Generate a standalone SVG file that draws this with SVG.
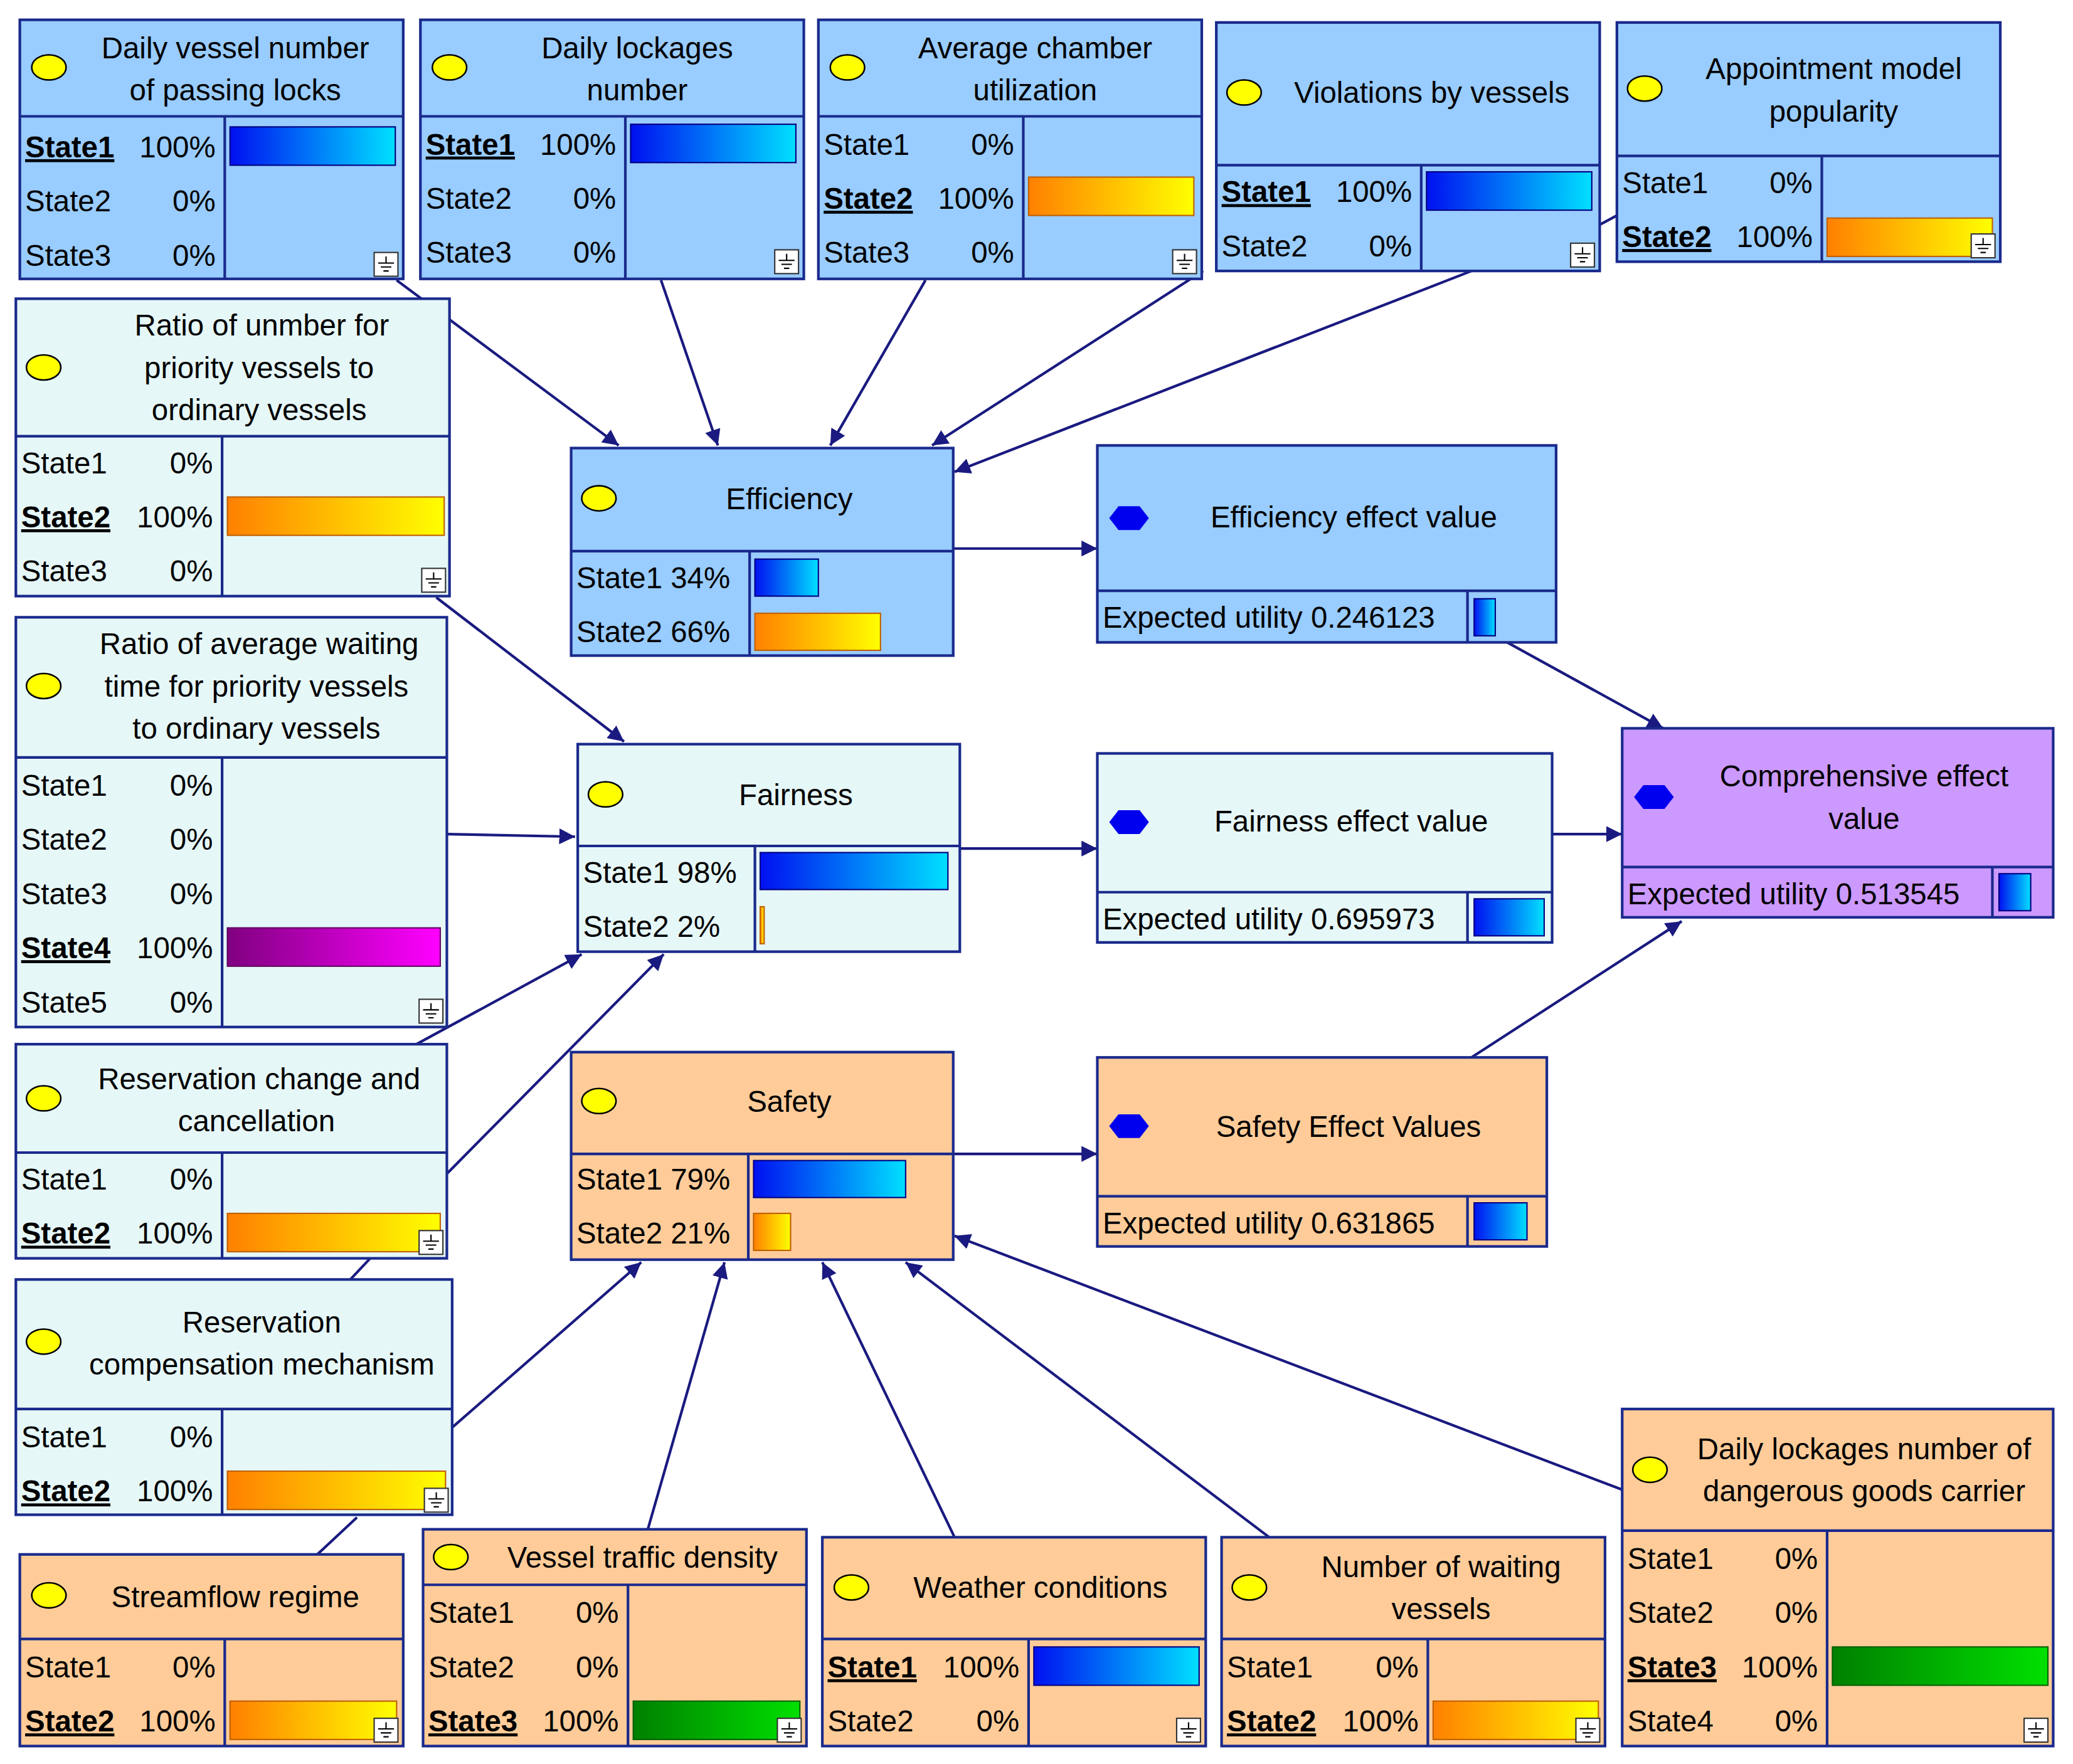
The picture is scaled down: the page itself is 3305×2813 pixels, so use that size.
<svg xmlns="http://www.w3.org/2000/svg" width="3305" height="2813" viewBox="0 0 3305 2813">
<style>
.b{stroke:#1a2a8c;stroke-width:2}
.lb{fill:#99ccff}.cy{fill:#e6f7f7}.or{fill:#ffcc99}.pu{fill:#cc99ff}
.t{font-family:"Liberation Sans",Arial,sans-serif;font-size:22.5px;fill:#000}
.m{text-anchor:middle}.e{text-anchor:end}
.s{font-weight:bold;text-decoration:underline}
.c{stroke:#1a1a80;stroke-width:2;fill:none;marker-end:url(#a)}
.c0{stroke:#1a1a80;stroke-width:2;fill:none}
.ic{fill:#fff;stroke:#333;stroke-width:1}
</style>
<defs>
<marker id="a" viewBox="0 0 10 10" refX="10" refY="5" markerWidth="12" markerHeight="12" markerUnits="userSpaceOnUse" orient="auto"><path d="M0,0L10,5L0,10z" fill="#1a1a80"/></marker>
<linearGradient id="gb"><stop offset="0" stop-color="#0010f0"/><stop offset="1" stop-color="#00e0ff"/></linearGradient>
<linearGradient id="go"><stop offset="0" stop-color="#ff8000"/><stop offset="1" stop-color="#ffff00"/></linearGradient>
<linearGradient id="gp"><stop offset="0" stop-color="#800080"/><stop offset="1" stop-color="#ff00ff"/></linearGradient>
<linearGradient id="gg"><stop offset="0" stop-color="#008000"/><stop offset="1" stop-color="#00e000"/></linearGradient>
<g id="ic"><rect x="-10" y="-10" width="18" height="18" class="ic"/><path d="M-1,-7V-2M-7,-2H5M-5,1H3M-3,4H1" stroke="#000" stroke-width="1"/></g>
<ellipse id="el" rx="13" ry="9.5" fill="#ffff00" stroke="#000" stroke-width="1.2"/>
<path id="hx" d="M-15,0L-8,-9H8L15,0L8,9H-8z" fill="#0000ee"/>
</defs>
<g transform="scale(2.1078)">
<g id="connectors">
<path class="c" d="M300,212L468,337"/>
<path class="c" d="M500,212L543,337"/>
<path class="c" d="M700,212L628,337"/>
<path class="c" d="M910,205L705,337"/>
<path class="c" d="M1113,205L722,357"/>
<path class="c0" d="M1210,170L1223,163"/>
<path class="c" d="M330,452L472,561"/>
<path class="c" d="M338,631L435,633"/>
<path class="c" d="M315,790L440,722"/>
<path class="c" d="M338,888L502,722"/>
<path class="c" d="M342,1080L485,955"/>
<path class="c0" d="M240,1176L270,1148"/>
<path class="c0" d="M265,968L280,952"/>
<path class="c" d="M490,1157L548,955"/>
<path class="c" d="M722,1163L622,955"/>
<path class="c" d="M960,1163L685,955"/>
<path class="c" d="M1227,1127L722,935"/>
<path class="c" d="M721,415L830,415"/>
<path class="c" d="M726,642L830,642"/>
<path class="c" d="M721,873L830,873"/>
<path class="c" d="M1140,486L1258,551"/>
<path class="c" d="M1174,631L1227,631"/>
<path class="c" d="M1113,800L1272,697"/>
</g>

<g id="n1"><rect x="15" y="15" width="290" height="196" class="b lb"/><line x1="15" y1="88" x2="305" y2="88" class="b"/><line x1="170" y1="88" x2="170" y2="211" class="b"/>
<use href="#el" x="37" y="51"/><text class="t m" x="178" y="44">Daily vessel number</text><text class="t m" x="178" y="76">of passing locks</text>
<text class="t s" x="19" y="119">State1</text><text class="t e" x="163" y="119">100%</text><text class="t" x="19" y="160">State2</text><text class="t e" x="163" y="160">0%</text><text class="t" x="19" y="201">State3</text><text class="t e" x="163" y="201">0%</text>
<rect x="174" y="96" width="125" height="29" fill="url(#gb)" stroke="#000080"/><use href="#ic" x="293" y="201"/></g>

<g id="n2"><rect x="318" y="15" width="290" height="196" class="b lb"/><line x1="318" y1="88" x2="608" y2="88" class="b"/><line x1="473" y1="88" x2="473" y2="211" class="b"/>
<use href="#el" x="340" y="51"/><text class="t m" x="482" y="44">Daily lockages</text><text class="t m" x="482" y="76">number</text>
<text class="t s" x="322" y="117">State1</text><text class="t e" x="466" y="117">100%</text><text class="t" x="322" y="158">State2</text><text class="t e" x="466" y="158">0%</text><text class="t" x="322" y="199">State3</text><text class="t e" x="466" y="199">0%</text>
<rect x="477" y="94" width="125" height="29" fill="url(#gb)" stroke="#000080"/><use href="#ic" x="596" y="199"/></g>

<g id="n3"><rect x="619" y="15" width="290" height="196" class="b lb"/><line x1="619" y1="88" x2="909" y2="88" class="b"/><line x1="774" y1="88" x2="774" y2="211" class="b"/>
<use href="#el" x="641" y="51"/><text class="t m" x="783" y="44">Average chamber</text><text class="t m" x="783" y="76">utilization</text>
<text class="t" x="623" y="117">State1</text><text class="t e" x="767" y="117">0%</text><text class="t s" x="623" y="158">State2</text><text class="t e" x="767" y="158">100%</text><text class="t" x="623" y="199">State3</text><text class="t e" x="767" y="199">0%</text>
<rect x="778" y="134" width="125" height="29" fill="url(#go)" stroke="#c06000"/><use href="#ic" x="897" y="199"/></g>

<g id="n4"><rect x="920" y="17" width="290" height="188" class="b lb"/><line x1="920" y1="125" x2="1210" y2="125" class="b"/><line x1="1075" y1="125" x2="1075" y2="205" class="b"/>
<use href="#el" x="941" y="70"/><text class="t m" x="1083" y="78">Violations by vessels</text>
<text class="t s" x="924" y="153">State1</text><text class="t e" x="1068" y="153">100%</text><text class="t" x="924" y="194">State2</text><text class="t e" x="1068" y="194">0%</text>
<rect x="1079" y="130" width="125" height="29" fill="url(#gb)" stroke="#000080"/><use href="#ic" x="1198" y="194"/></g>

<g id="n5"><rect x="1223" y="17" width="290" height="181" class="b lb"/><line x1="1223" y1="118" x2="1513" y2="118" class="b"/><line x1="1378" y1="118" x2="1378" y2="198" class="b"/>
<use href="#el" x="1244" y="67"/><text class="t m" x="1387" y="60">Appointment model</text><text class="t m" x="1387" y="92">popularity</text>
<text class="t" x="1227" y="146">State1</text><text class="t e" x="1371" y="146">0%</text><text class="t s" x="1227" y="187">State2</text><text class="t e" x="1371" y="187">100%</text>
<rect x="1382" y="165" width="125" height="29" fill="url(#go)" stroke="#c06000"/><use href="#ic" x="1501" y="187"/></g>

<g id="n6"><rect x="12" y="226" width="328" height="225" class="b cy"/><line x1="12" y1="330" x2="340" y2="330" class="b"/><line x1="168" y1="330" x2="168" y2="451" class="b"/>
<use href="#el" x="33" y="278"/><text class="t m" x="198" y="254">Ratio of unmber for</text><text class="t m" x="196" y="286">priority vessels to</text><text class="t m" x="196" y="318">ordinary vessels</text>
<text class="t" x="16" y="358">State1</text><text class="t e" x="161" y="358">0%</text><text class="t s" x="16" y="399">State2</text><text class="t e" x="161" y="399">100%</text><text class="t" x="16" y="440">State3</text><text class="t e" x="161" y="440">0%</text>
<rect x="172" y="376" width="164" height="29" fill="url(#go)" stroke="#c06000"/><use href="#ic" x="329" y="440"/></g>

<g id="n7"><rect x="12" y="467" width="326" height="310" class="b cy"/><line x1="12" y1="573" x2="338" y2="573" class="b"/><line x1="168" y1="573" x2="168" y2="777" class="b"/>
<use href="#el" x="33" y="519"/><text class="t m" x="196" y="495">Ratio of average waiting</text><text class="t m" x="194" y="527">time for priority vessels</text><text class="t m" x="194" y="559">to ordinary vessels</text>
<text class="t" x="16" y="602">State1</text><text class="t e" x="161" y="602">0%</text><text class="t" x="16" y="643">State2</text><text class="t e" x="161" y="643">0%</text><text class="t" x="16" y="684">State3</text><text class="t e" x="161" y="684">0%</text><text class="t s" x="16" y="725">State4</text><text class="t e" x="161" y="725">100%</text><text class="t" x="16" y="766">State5</text><text class="t e" x="161" y="766">0%</text>
<rect x="172" y="702" width="161" height="29" fill="url(#gp)" stroke="#600060"/><use href="#ic" x="327" y="766"/></g>

<g id="n8"><rect x="12" y="790" width="326" height="162" class="b cy"/><line x1="12" y1="872" x2="338" y2="872" class="b"/><line x1="168" y1="872" x2="168" y2="952" class="b"/>
<use href="#el" x="33" y="831"/><text class="t m" x="196" y="824">Reservation change and</text><text class="t m" x="194" y="856">cancellation</text>
<text class="t" x="16" y="900">State1</text><text class="t e" x="161" y="900">0%</text><text class="t s" x="16" y="941">State2</text><text class="t e" x="161" y="941">100%</text>
<rect x="172" y="918" width="161" height="29" fill="url(#go)" stroke="#c06000"/><use href="#ic" x="327" y="941"/></g>

<g id="n9"><rect x="12" y="968" width="330" height="178" class="b cy"/><line x1="12" y1="1066" x2="342" y2="1066" class="b"/><line x1="168" y1="1066" x2="168" y2="1146" class="b"/>
<use href="#el" x="33" y="1015"/><text class="t m" x="198" y="1008">Reservation</text><text class="t m" x="198" y="1040">compensation mechanism</text>
<text class="t" x="16" y="1095">State1</text><text class="t e" x="161" y="1095">0%</text><text class="t s" x="16" y="1136">State2</text><text class="t e" x="161" y="1136">100%</text>
<rect x="172" y="1113" width="165" height="29" fill="url(#go)" stroke="#c06000"/><use href="#ic" x="331" y="1136"/></g>

<g id="n10"><rect x="15" y="1176" width="290" height="145" class="b or"/><line x1="15" y1="1240" x2="305" y2="1240" class="b"/><line x1="170" y1="1240" x2="170" y2="1321" class="b"/>
<use href="#el" x="37" y="1207"/><text class="t m" x="178" y="1216">Streamflow regime</text>
<text class="t" x="19" y="1269">State1</text><text class="t e" x="163" y="1269">0%</text><text class="t s" x="19" y="1310">State2</text><text class="t e" x="163" y="1310">100%</text>
<rect x="174" y="1287" width="126" height="29" fill="url(#go)" stroke="#c06000"/><use href="#ic" x="293" y="1310"/></g>

<g id="n11"><rect x="320" y="1157" width="290" height="164" class="b or"/><line x1="320" y1="1199" x2="610" y2="1199" class="b"/><line x1="475" y1="1199" x2="475" y2="1321" class="b"/>
<use href="#el" x="341" y="1178"/><text class="t m" x="486" y="1186">Vessel traffic density</text>
<text class="t" x="324" y="1228">State1</text><text class="t e" x="468" y="1228">0%</text><text class="t" x="324" y="1269">State2</text><text class="t e" x="468" y="1269">0%</text><text class="t s" x="324" y="1310">State3</text><text class="t e" x="468" y="1310">100%</text>
<rect x="479" y="1287" width="126" height="29" fill="url(#gg)" stroke="#006000"/><use href="#ic" x="598" y="1310"/></g>

<g id="n12"><rect x="622" y="1163" width="290" height="158" class="b or"/><line x1="622" y1="1240" x2="912" y2="1240" class="b"/><line x1="778" y1="1240" x2="778" y2="1321" class="b"/>
<use href="#el" x="644" y="1201"/><text class="t m" x="787" y="1209">Weather conditions</text>
<text class="t s" x="626" y="1269">State1</text><text class="t e" x="771" y="1269">100%</text><text class="t" x="626" y="1310">State2</text><text class="t e" x="771" y="1310">0%</text>
<rect x="782" y="1246" width="125" height="29" fill="url(#gb)" stroke="#000080"/><use href="#ic" x="900" y="1310"/></g>

<g id="n13"><rect x="924" y="1163" width="290" height="158" class="b or"/><line x1="924" y1="1240" x2="1214" y2="1240" class="b"/><line x1="1080" y1="1240" x2="1080" y2="1321" class="b"/>
<use href="#el" x="945" y="1201"/><text class="t m" x="1090" y="1193">Number of waiting</text><text class="t m" x="1090" y="1225">vessels</text>
<text class="t" x="928" y="1269">State1</text><text class="t e" x="1073" y="1269">0%</text><text class="t s" x="928" y="1310">State2</text><text class="t e" x="1073" y="1310">100%</text>
<rect x="1084" y="1287" width="125" height="29" fill="url(#go)" stroke="#c06000"/><use href="#ic" x="1202" y="1310"/></g>

<g id="n14"><rect x="1227" y="1066" width="326" height="255" class="b or"/><line x1="1227" y1="1158" x2="1553" y2="1158" class="b"/><line x1="1382" y1="1158" x2="1382" y2="1321" class="b"/>
<use href="#el" x="1248" y="1112"/><text class="t m" x="1410" y="1104">Daily lockages number of</text><text class="t m" x="1410" y="1136">dangerous goods carrier</text>
<text class="t" x="1231" y="1187">State1</text><text class="t e" x="1375" y="1187">0%</text><text class="t" x="1231" y="1228">State2</text><text class="t e" x="1375" y="1228">0%</text><text class="t s" x="1231" y="1269">State3</text><text class="t e" x="1375" y="1269">100%</text><text class="t" x="1231" y="1310">State4</text><text class="t e" x="1375" y="1310">0%</text>
<rect x="1386" y="1246" width="163" height="29" fill="url(#gg)" stroke="#006000"/><use href="#ic" x="1541" y="1310"/></g>

<g id="n15"><rect x="432" y="339" width="289" height="157" class="b lb"/><line x1="432" y1="417" x2="721" y2="417" class="b"/><line x1="567" y1="417" x2="567" y2="496" class="b"/>
<use href="#el" x="453" y="377"/><text class="t m" x="597" y="385">Efficiency</text>
<text class="t" x="436" y="445">State1 34%</text><text class="t" x="436" y="486">State2 66%</text>
<rect x="571" y="423" width="48" height="28" fill="url(#gb)" stroke="#000080"/><rect x="571" y="464" width="95" height="28" fill="url(#go)" stroke="#c06000"/></g>

<g id="n16"><rect x="437" y="563" width="289" height="157" class="b cy"/><line x1="437" y1="640" x2="726" y2="640" class="b"/><line x1="571" y1="640" x2="571" y2="720" class="b"/>
<use href="#el" x="458" y="601"/><text class="t m" x="602" y="609">Fairness</text>
<text class="t" x="441" y="668">State1 98%</text><text class="t" x="441" y="709">State2   2%</text>
<rect x="575" y="645" width="142" height="28" fill="url(#gb)" stroke="#000080"/><rect x="575" y="686" width="3" height="28" fill="url(#go)" stroke="#c06000"/></g>

<g id="n17"><rect x="432" y="796" width="289" height="157" class="b or"/><line x1="432" y1="873" x2="721" y2="873" class="b"/><line x1="566" y1="873" x2="566" y2="953" class="b"/>
<use href="#el" x="453" y="833"/><text class="t m" x="597" y="841">Safety</text>
<text class="t" x="436" y="900">State1 79%</text><text class="t" x="436" y="941">State2 21%</text>
<rect x="570" y="878" width="115" height="28" fill="url(#gb)" stroke="#000080"/><rect x="570" y="918" width="28" height="28" fill="url(#go)" stroke="#c06000"/></g>

<g id="n18"><rect x="830" y="337" width="347" height="149" class="b lb"/><line x1="830" y1="447" x2="1177" y2="447" class="b"/><line x1="1110" y1="447" x2="1110" y2="486" class="b"/>
<use href="#hx" x="854" y="392"/><text class="t m" x="1024" y="399">Efficiency effect value</text>
<text class="t" x="834" y="475">Expected utility 0.246123</text><rect x="1115" y="453" width="16" height="28" fill="url(#gb)" stroke="#000080"/></g>

<g id="n19"><rect x="830" y="570" width="344" height="143" class="b cy"/><line x1="830" y1="675" x2="1174" y2="675" class="b"/><line x1="1110" y1="675" x2="1110" y2="713" class="b"/>
<use href="#hx" x="854" y="622"/><text class="t m" x="1022" y="629">Fairness effect value</text>
<text class="t" x="834" y="703">Expected utility 0.695973</text><rect x="1115" y="680" width="53" height="28" fill="url(#gb)" stroke="#000080"/></g>

<g id="n20"><rect x="830" y="800" width="340" height="143" class="b or"/><line x1="830" y1="905" x2="1170" y2="905" class="b"/><line x1="1110" y1="905" x2="1110" y2="943" class="b"/>
<use href="#hx" x="854" y="852"/><text class="t m" x="1020" y="860">Safety Effect Values</text>
<text class="t" x="834" y="933">Expected utility 0.631865</text><rect x="1115" y="910" width="40" height="28" fill="url(#gb)" stroke="#000080"/></g>

<g id="n21"><rect x="1227" y="551" width="326" height="143" class="b pu"/><line x1="1227" y1="656" x2="1553" y2="656" class="b"/><line x1="1507" y1="656" x2="1507" y2="694" class="b"/>
<use href="#hx" x="1251" y="603"/><text class="t m" x="1410" y="595">Comprehensive effect</text><text class="t m" x="1410" y="627">value</text>
<text class="t" x="1231" y="684">Expected utility 0.513545</text><rect x="1512" y="661" width="24" height="28" fill="url(#gb)" stroke="#000080"/></g>
</g>
</svg>
